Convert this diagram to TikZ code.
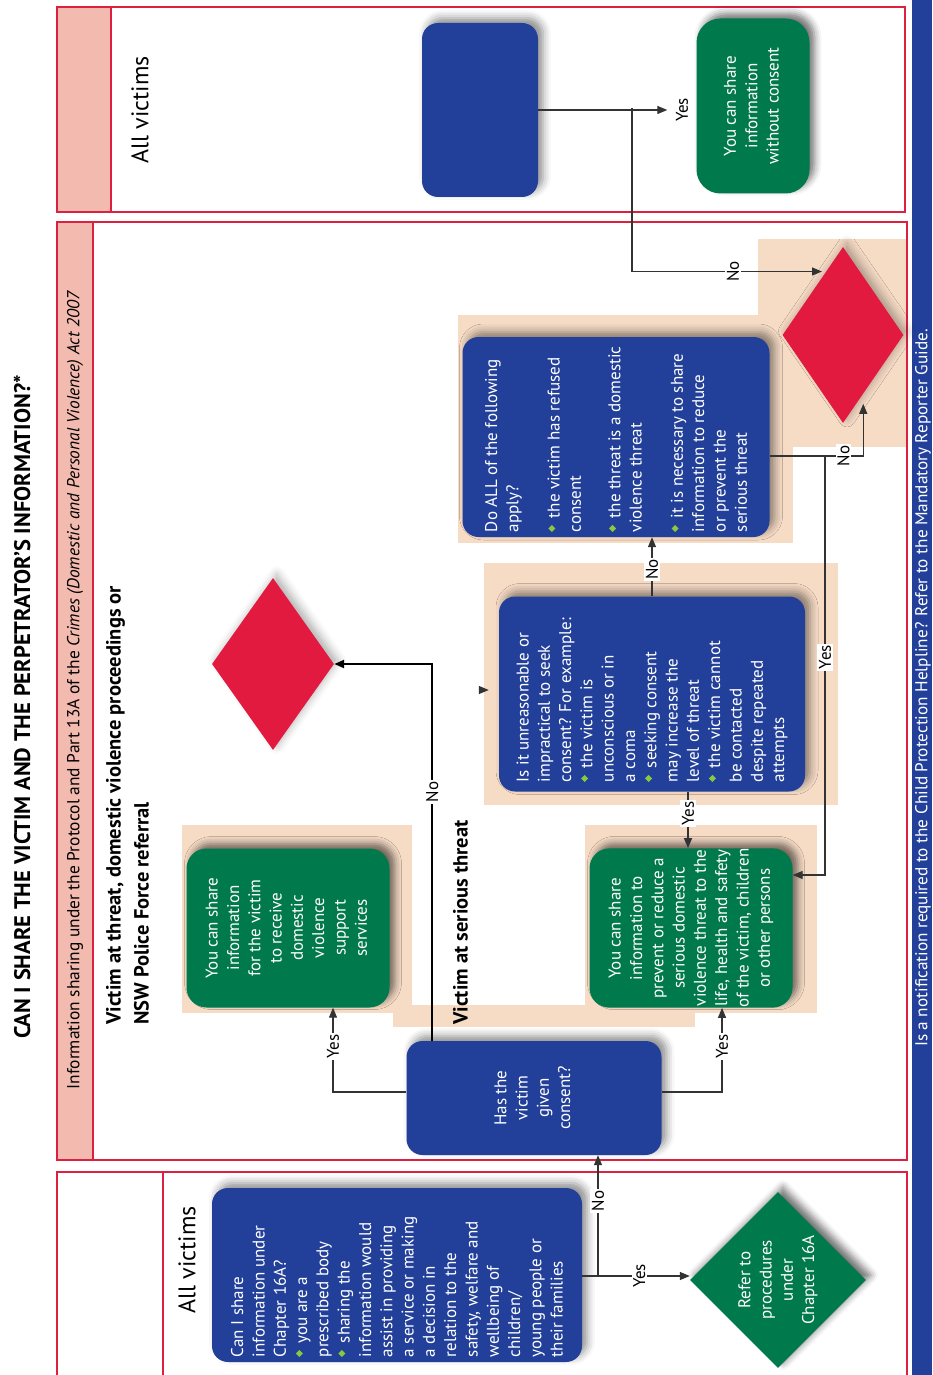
\documentclass[tikz,border=0pt]{standalone}
\usepackage{fontspec}
\setmainfont{PT Sans}
\usetikzlibrary{shapes.geometric,arrows.meta,shadows.blur}

\definecolor{boxblue}{RGB}{34,64,153}
\definecolor{boxgreen}{RGB}{0,121,76}
\definecolor{diamred}{RGB}{227,26,64}
\definecolor{framered}{RGB}{221,32,64}
\definecolor{headpink}{RGB}{243,186,175}
\definecolor{peach}{RGB}{246,219,197}
\definecolor{bulgreen}{RGB}{141,198,63}
\def\linecolor{black!80}

\newcommand{\boxfont}{\fontsize{17}{21.3}\selectfont}
\newcommand{\bul}{\raisebox{0.25em}{\rotatebox{45}{\color{bulgreen}\rule{5pt}{5pt}}}}
\newcommand{\bitem}{\par\hangindent=14pt\hangafter=1\noindent\makebox[14pt][l]{\bul}}
\newcommand{\sidetext}[2]{\rotatebox{90}{\parbox{#1}{\boxfont\raggedright #2}}}
\newcommand{\sidecentre}[1]{\rotatebox{90}{\boxfont\begin{tabular}{@{}c@{}}#1\end{tabular}}}
\newcommand{\sideleft}[1]{\rotatebox{90}{\begin{tabular}{@{}l@{}}#1\end{tabular}}}

\begin{document}
\begin{tikzpicture}[x=1pt, y=-1pt,
  bluebox/.style={rectangle, rounded corners=16pt, fill=boxblue, text=white, inner sep=0pt,
    blur shadow={shadow xshift=5pt, shadow yshift=5pt, shadow blur radius=8pt, shadow opacity=45}},
  greenbox/.style={rectangle, rounded corners=20pt, fill=boxgreen, text=white, inner sep=0pt,
    blur shadow={shadow xshift=5pt, shadow yshift=5pt, shadow blur radius=7pt, shadow opacity=55}},
  reddiamond/.style={diamond, fill=diamred, inner sep=0pt,
    blur shadow={shadow xshift=4pt, shadow yshift=4pt, shadow blur radius=8pt, shadow opacity=30}},
  greendiamond/.style={diamond, fill=boxgreen, text=white, inner sep=-8pt,
    blur shadow={shadow xshift=5pt, shadow yshift=5pt, shadow blur radius=7pt, shadow opacity=55}},
  conn/.style={draw=\linecolor, line width=1.3pt},
  arr/.style={conn, -{Triangle[length=10pt, width=8pt]}},
  yesno/.style={fill=white, inner sep=1.5pt, rotate=90, font=\fontsize{17}{20}\selectfont},
  panel/.style={draw=framered, line width=1.4pt}]

  \useasboundingbox (0,0) rectangle (932,1375);

  % panels and side band
  \fill[headpink] (57,7) rectangle (111,212);
  \draw[panel] (57,7) rectangle (905,212);
  \draw[panel] (111,7) -- (111,212);
  \fill[headpink] (57,222) rectangle (93,1160);
  \draw[panel] (57,222) rectangle (907,1160);
  \draw[panel] (93,222) -- (93,1160);
  \draw[panel] (57,1385) |- (907,1172) -- (907,1385);
  \draw[panel] (163,1172) -- (163,1385);
  \fill[boxblue] (912,0) rectangle (932,1375);

  % peach backdrops
  \fill[peach] (182,825) rectangle (412,1013);
  \fill[peach] (393,1005) rectangle (695,1027);
  \fill[peach] (585,825) rectangle (817,1013);
  \fill[peach] (484,563) rectangle (838,805);
  \fill[peach] (458,315) rectangle (793,543);
  \fill[peach] (758,239) rectangle (906,447);

  % headings
  \node (title) at (22,707) {\rotatebox{90}{\fontsize{22.5}{26}\selectfont\bfseries CAN I SHARE THE VICTIM AND THE PERPETRATOR’S INFORMATION?*}};
  \node (infohead) at (75,690) {\rotatebox{90}{\fontsize{17.4}{20}\selectfont Information sharing under the Protocol and Part 13A of the \textit{Crimes (Domestic and Personal Violence) Act 2007}}};
  \node (helpline) at (923,688) {\rotatebox{90}{\color{white}\fontsize{17.2}{19}\selectfont Is a notification required to the Child Protection Helpline? Refer to the Mandatory Reporter Guide.}};
  \node (allvicta) at (187,1260) {\rotatebox{90}{\fontsize{24}{28}\selectfont All victims}};
  \node (allvictb) at (140,110) {\rotatebox{90}{\fontsize{24}{28}\selectfont All victims}};
  \node[anchor=south, inner sep=0pt] (threatlbl) at (129,1025) {\fontsize{20.5}{28}\selectfont\bfseries\sideleft{Victim at threat, domestic violence proceedings or\\ NSW Police Force referral}};
  \node[anchor=south, inner sep=0pt] (seriouslbl) at (462,1025) {\fontsize{20.5}{28}\selectfont\bfseries\sideleft{Victim at serious threat}};

  % boxes
  \node[bluebox, minimum width=370pt, minimum height=174pt] (canshare) at (397,1275)
    {\sidetext{164pt}{Can I share\\ information under\\ Chapter 16A?
      \bitem you are a\\ prescribed body
      \bitem sharing the\\ information would\\ assist in providing\\ a service or making\\ a decision in\\ relation to the\\ safety, welfare and\\ wellbeing of\\ children/\\ young people or\\ their families}};
  \node[greendiamond, minimum width=176pt, minimum height=176pt] (refer) at (778,1280)
    {\sidecentre{Refer to\\ procedures\\ under\\ Chapter 16A}};
  \node[bluebox, minimum width=255pt, minimum height=114pt] (consent) at (534,1098)
    {\sidecentre{Has the\\ victim\\ given\\ consent?}};
  \node[greenbox, minimum width=203pt, minimum height=159pt] (dvsupport) at (288,928)
    {\sidecentre{You can share\\ information\\ for the victim\\ to receive\\ domestic\\ violence\\ support\\ services}};
  \node[greenbox, minimum width=203pt, minimum height=159pt] (serious) at (691,928)
    {\sidecentre{You can share\\ information to\\ prevent or reduce a\\ serious domestic\\ violence threat to the\\ life, health and safety\\ of the victim, children\\ or other persons}};
  \node[reddiamond, minimum width=122pt, minimum height=172pt] (blankleft) at (273,664) {};
  \node[bluebox, minimum width=306pt, minimum height=195pt] (impractical) at (652,694)
    {\sidetext{176pt}{Is it unreasonable or\\ impractical to seek\\ consent? For example:
      \bitem the victim is\\ unconscious or in\\ a coma
      \bitem seeking consent\\ may increase the\\ level of threat
      \bitem the victim cannot\\ be contacted\\ despite repeated\\ attempts}};
  \node[bluebox, minimum width=307pt, minimum height=200pt] (allapply) at (616,437)
    {\sidetext{190pt}{Do ALL of the following\\ apply?\par\vspace{20pt}
      \bitem the victim has refused\\ consent\par\vspace{18pt}
      \bitem the threat is a domestic\\ violence threat\par\vspace{20pt}
      \bitem it is necessary to share\\ information to reduce\\ or prevent the\\ serious threat}};
  \node[reddiamond, minimum width=121pt, minimum height=176pt] (blankright) at (843,335) {};
  \node[bluebox, minimum width=116pt, minimum height=174pt] (blanktop) at (480,110) {};
  \node[greenbox, rounded corners=24pt, minimum width=113pt, minimum height=175pt] (noconsent) at (753,106)
    {\sidecentre{You can share\\ information\\ without consent}};

  % junctions
  \coordinate (canjoin) at (598,1276);
  \coordinate (alljoin) at (825,456);
  \coordinate (topjoin) at (632,108);
  \coordinate (stub) at (480,690);

  % connectors
  \draw[conn] (canshare.east |- canjoin) -- (canjoin);
  \draw[arr] (canjoin) -- (canjoin -| refer.west) node[yesno, pos=0.45] {Yes};
  \draw[arr] (canjoin) -- (canjoin |- consent.south) node[yesno, pos=0.62] {No};
  \draw[arr] ([yshift=6pt]consent.west) -| ([xshift=45pt]dvsupport.south) node[yesno, pos=0.77] {Yes};
  \draw[arr] ([yshift=6pt]consent.east) -| ([xshift=31pt]serious.south) node[yesno, pos=0.77] {Yes};
  \draw[arr, draw=black, line width=2.2pt] ([xshift=26pt]consent.north west) |- (blankleft.east) node[yesno, pos=0.33] {No};
  \draw[arr] ([xshift=36pt]impractical.south) -- ([xshift=36pt]impractical.south |- serious.north) node[yesno, pos=0.38] {Yes};
  \draw[arr] (impractical.north) -- (impractical.north |- allapply.south) node[yesno, pos=0.45] {No};
  \draw[conn] (allapply.east |- alljoin) -- (alljoin);
  \draw[arr] (alljoin) |- ([yshift=53pt]serious.east) node[yesno, pos=0.24] {Yes};
  \draw[arr, shorten >=10pt] (alljoin) -| (blankright.-71) node[yesno, pos=0.24] {No};
  \draw[arr, shorten >=29pt] (blanktop.east) -- (blanktop.east -| noconsent.west) node[yesno, pos=0.91] {Yes};
  \draw[arr, shorten >=4pt] (topjoin) |- (blankright.105) node[yesno, pos=0.76] {No};
  \draw[arr, shorten >=10pt] (stub) -- (stub -| impractical.west);
\end{tikzpicture}
\end{document}
